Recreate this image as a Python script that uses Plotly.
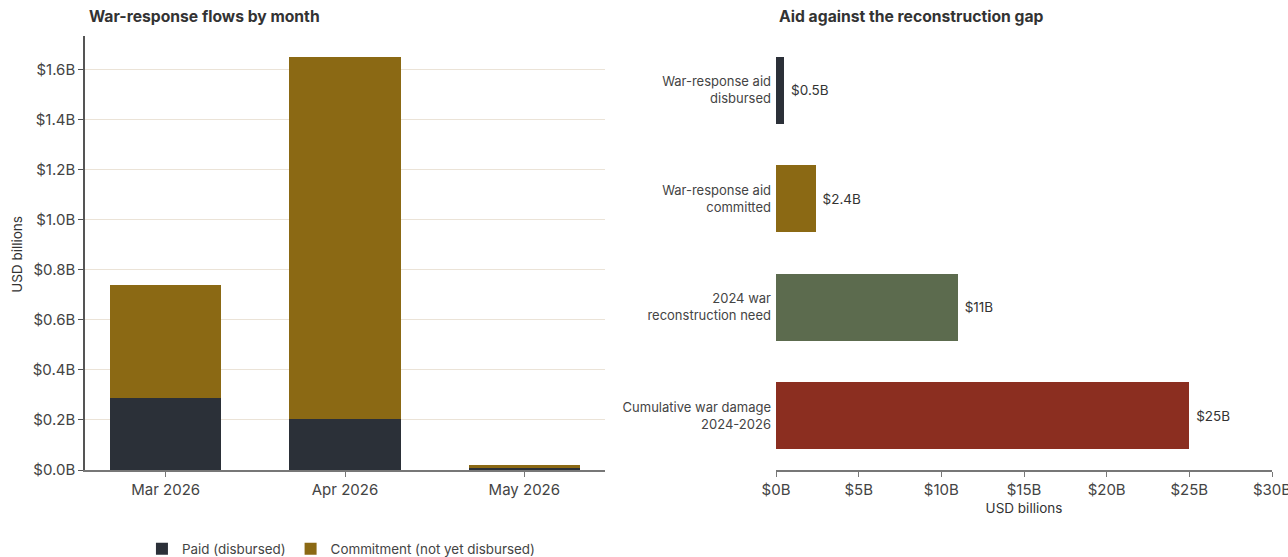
import plotly.graph_objects as go

# Monthly war-response flows (USD billions)
months = ["Mar 2026", "Apr 2026", "May 2026"]
paid = [0.287, 0.205, 0.008]
commitment = [0.451, 1.447, 0.012]

# Aid vs reconstruction gap (USD billions)
gap_labels = [
    "War-response aid<br>disbursed",
    "War-response aid<br>committed",
    "2024 war<br>reconstruction need",
    "Cumulative war damage<br>2024-2026",
]
gap_values = [0.5, 2.4, 11, 25]
gap_text = ["$0.5B", "$2.4B", "$11B", "$25B"]
gap_colors = ["#2b3038", "#8b6914", "#5c6b4e", "#8b2e20"]

# Horizontal axis ticks for the gap panel
gap_ticks = [0, 5, 10, 15, 20, 25, 30]
gap_tick_text = ["$0B", "$5B", "$10B", "$15B", "$20B", "$25B", "$30B"]

DARK = "#2b3038"
GOLD = "#8b6914"
FONT = "Inter, Roboto, sans-serif"
NBSP = "\u00a0"

fig = go.Figure()

fig.add_trace(go.Bar(
    x=months, y=paid, name="Paid (disbursed)",
    marker=dict(color=DARK, line=dict(width=0)),
    width=0.62, xaxis="x", yaxis="y", hoverinfo="skip",
))
fig.add_trace(go.Bar(
    x=months, y=commitment, name="Commitment (not yet disbursed)" + NBSP * 2,
    marker=dict(color=GOLD, line=dict(width=0)),
    width=0.62, xaxis="x", yaxis="y", hoverinfo="skip",
))

fig.add_trace(go.Bar(
    x=gap_values, y=gap_labels, orientation="h",
    marker=dict(color=gap_colors, line=dict(width=0)),
    text=[NBSP + t for t in gap_text], textposition="outside", cliponaxis=False,
    textfont=dict(size=13.5, color="#333333", family=FONT),
    width=0.62, xaxis="x2", yaxis="y2", showlegend=False, hoverinfo="skip",
))

left_end = 520 / 1187
right_start = 691 / 1187

fig.update_layout(
    barmode="stack",
    width=1288, height=557,
    margin=dict(l=85, r=16, t=36, b=87, autoexpand=False),
    paper_bgcolor="white", plot_bgcolor="white",
    font=dict(family=FONT, size=13, color="#444444"),
    xaxis=dict(
        domain=[0, left_end], range=[-0.45, 2.45],
        showline=True, linecolor="#777777", linewidth=1.5,
        ticks="outside", ticklen=5, tickcolor="#777777",
        showgrid=False, tickfont=dict(size=15, color="#444444"),
    ),
    yaxis=dict(
        range=[0, 1.735], dtick=0.2, tickformat=".1f",
        tickprefix="$", ticksuffix="B",
        showline=True, linecolor="#555555", linewidth=1.5,
        ticks="outside", ticklen=5, tickcolor="#555555",
        showgrid=True, gridcolor="rgba(215,200,175,0.5)", gridwidth=1,
        zeroline=False, layer="above traces",
        tickfont=dict(size=15, color="#444444"),
    ),
    xaxis2=dict(
        domain=[right_start, 1], range=[0, 30.0001],
        tickmode="array", tickvals=gap_ticks, ticktext=gap_tick_text,
        ticklabeloverflow="allow",
        anchor="y2",
        showline=True, linecolor="#777777", linewidth=1.5,
        ticks="outside", ticklen=5, tickcolor="#777777",
        showgrid=False, zeroline=False,
        tickfont=dict(size=15, color="#444444"),
        title=dict(text="USD billions", standoff=6,
                   font=dict(size=13.5, color="#333333")),
    ),
    yaxis2=dict(
        anchor="x2", range=[3.5, -0.5], showline=False, showgrid=False,
        zeroline=False, ticks="", ticklabelstandoff=4,
        tickfont=dict(size=13, color="#444444"),
    ),
    legend=dict(
        orientation="h", x=0.219, xanchor="center", y=-0.182, yanchor="middle",
        font=dict(size=13.4, color="#444444"), traceorder="normal",
        itemwidth=30,
    ),
    annotations=[
        dict(text="<b>War-response flows by month</b>", xref="paper", yref="paper",
             x=0.0017, y=1.0438, xanchor="left", yanchor="middle", showarrow=False,
             font=dict(size=15.7, color="#333333")),
        dict(text="<b>Aid against the reconstruction gap</b>", xref="paper", yref="paper",
             x=right_start + 0.0008, y=1.0438, xanchor="left", yanchor="middle",
             showarrow=False, font=dict(size=15.7, color="#333333")),
        dict(text="USD billions", xref="paper", yref="paper",
             x=-0.0573, y=0.498, xanchor="center", yanchor="middle",
             textangle=-90, showarrow=False, font=dict(size=13.5, color="#333333")),
    ],
)

fig.write_html("out.html")
